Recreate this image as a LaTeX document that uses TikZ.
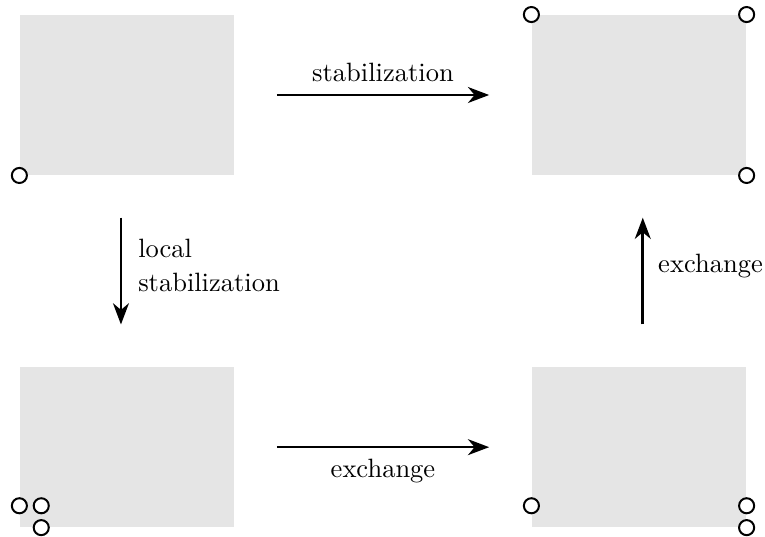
\documentclass[tikz,border=0pt]{standalone}
\usepackage{amsmath}
\usetikzlibrary{arrows.meta}

\tikzset{
  box/.style={rectangle, fill=gray!20, minimum width=2.84cm, minimum height=2.12cm, inner sep=0pt},
  hole/.style={circle, draw, line width=0.75pt, fill=white, inner sep=0pt, minimum size=0.2cm},
  move/.style={-{Stealth[length=8pt,width=6pt,inset=2.5pt]}, line width=1pt, shorten <=0.56cm, shorten >=0.56cm},
}

\begin{document}
\begin{tikzpicture}
      \useasboundingbox (-1.684,-5.85) rectangle (8.461,1.26);

      \node[box] (tl) at (0,0) {};
      \node[box] (tr) at (6.79,0) {};
      \node[box] (bl) at (0,-4.67) {};
      \node[box] (br) at (6.79,-4.67) {};

      % holes on the corners
      \node[hole] (tl-1) at (tl.south west) {};
      \node[hole] (tr-1) at (tr.north west) {};
      \node[hole] (tr-2) at (tr.north east) {};
      \node[hole] (tr-3) at (tr.south east) {};
      \node[hole] (bl-1) at ([yshift=0.29cm]bl.south west) {};
      \node[hole] (bl-2) at ([shift={(0.29,0.29)}]bl.south west) {};
      \node[hole] (bl-3) at ([xshift=0.29cm]bl.south west) {};
      \node[hole] (br-1) at ([yshift=0.29cm]br.south west) {};
      \node[hole] (br-2) at ([yshift=0.29cm]br.south east) {};
      \node[hole] (br-3) at (br.south east) {};

      \draw[move] (tl) -- node[above=1pt] {stabilization} (tr);
      \draw[move] (bl) -- node[below=0.5pt] {exchange} (br);
      \draw[move] ([xshift=-0.08cm]tl.south) -- node[right=2.7pt, align=left, yshift=2pt] {local\\[0.8pt]stabilization} ([xshift=-0.08cm]bl.north);
      \draw[move] ([xshift=0.05cm]br.north) -- node[right=2pt, yshift=2pt] {exchange} ([xshift=0.05cm]tr.south);
    \end{tikzpicture}
\end{document}
